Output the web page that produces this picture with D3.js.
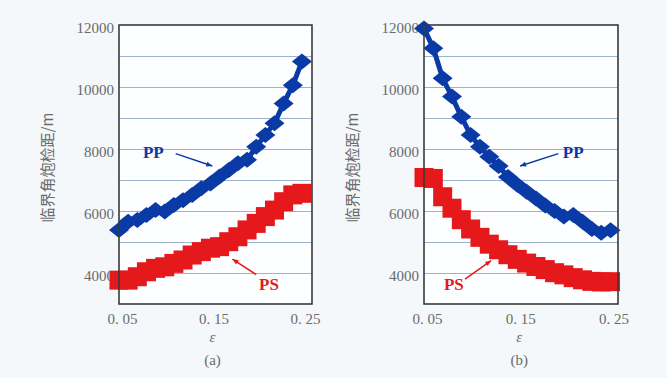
<!DOCTYPE html>
<html>
<head>
<meta charset="utf-8">
<script src="https://cdn.jsdelivr.net/npm/d3@7"></script>
<style>
  html, body { margin: 0; padding: 0; background: #f4f8fb; }
  svg { display: block; }
</style>
</head>
<body>
<svg id="chart" width="667" height="378"></svg>
<script>
const eps = [0.05, 0.06, 0.07, 0.08, 0.09, 0.10, 0.11, 0.12, 0.13, 0.14, 0.15,
  0.16, 0.17, 0.18, 0.19, 0.20, 0.21, 0.22, 0.23, 0.24, 0.25];

// panel (a)
const ppA = [5390, 5650, 5710, 5870, 6030, 5980, 6190, 6350, 6520, 6730, 6890,
  7110, 7320, 7540, 7650, 8070, 8450, 8830, 9470, 10060, 10820];
const psA = [3770, 3770, 3880, 4040, 4150, 4200, 4310, 4420, 4580, 4690, 4800,
  4850, 5010, 5170, 5390, 5600, 5820, 6030, 6300, 6520, 6570];

// panel (b)
const ppB = [11890, 11250, 10280, 9690, 9040, 8450, 8070, 7750, 7450, 7100, 6850,
  6620, 6400, 6180, 6000, 5820, 5870, 5650, 5420, 5300, 5380];
const psB = [7080, 7050, 6460, 6090, 5720, 5420, 5150, 4930, 4750, 4590, 4440,
  4320, 4210, 4110, 4010, 3940, 3850, 3780, 3730, 3710, 3720];

const xTicks = [0.05, 0.15, 0.25];
const yTicks = [4000, 6000, 8000, 10000, 12000];
const yGrid = [4000, 5000, 6000, 7000, 8000, 9000, 10000, 11000];

const BLUE = "#0a3aa6", RED = "#e5191c";
const serif = "'Liberation Serif', 'DejaVu Serif', serif";

const svg = d3.select("#chart");

// wide diamond marker
const wideDiamond = {
  draw(ctx, size) {
    const w = Math.sqrt(size) / 2, h = w * 0.8;
    ctx.moveTo(0, -h); ctx.lineTo(w, 0); ctx.lineTo(0, h); ctx.lineTo(-w, 0); ctx.closePath();
  }
};

function drawPanel(opt) {
  const { left, right, top, bottom, xMax, pp, ps, tag, ppLabel, psLabel } = opt;
  const width = right - left, height = bottom - top;

  const x = d3.scaleLinear().domain([0.05, xMax]).range([0, width]);
  const y = d3.scaleLinear().domain([3000, 12000]).range([height, 0]);

  const g = svg.append("g").attr("transform", `translate(${left},${top})`);

  g.append("rect").attr("width", width).attr("height", height).attr("fill", "#fdfeff");

  // gridlines
  g.append("g")
    .call(d3.axisLeft(y).tickValues(yGrid).tickSize(-width).tickFormat(() => ""))
    .call(s => s.select(".domain").remove())
    .selectAll("line").attr("stroke", "#9db3cb").attr("stroke-width", 1.2);

  // y tick labels
  g.append("g")
    .call(d3.axisLeft(y).tickValues(yTicks).tickSize(0).tickPadding(5).tickFormat(d3.format("d")))
    .call(s => s.select(".domain").remove())
    .selectAll("text")
    .attr("font-family", serif).attr("font-size", 15).attr("fill", "#6a6a6a")
    .attr("dy", "0.5em");

  // x tick labels
  g.append("g")
    .attr("transform", `translate(0,${height})`)
    .call(d3.axisBottom(x).tickValues(xTicks).tickSize(0).tickPadding(9)
      .tickFormat(d => d3.format(".2f")(d).replace(".", ". ")))
    .call(s => s.select(".domain").remove())
    .selectAll("text")
    .attr("font-family", serif).attr("font-size", 15).attr("fill", "#6a6a6a")
    .attr("dx", "0.2em");

  const line = d3.line().x((d, i) => x(eps[i])).y(d => y(d));

  // PS series: squares
  g.append("path").datum(ps).attr("d", line)
    .attr("fill", "none").attr("stroke", RED).attr("stroke-width", 8);
  g.selectAll(".sq").data(ps).join("rect")
    .attr("class", "sq")
    .attr("x", (d, i) => x(eps[i]) - 9.5).attr("y", d => y(d) - 9.5)
    .attr("width", 19).attr("height", 19).attr("fill", RED);

  // PP series: diamonds
  g.append("path").datum(pp).attr("d", line)
    .attr("fill", "none").attr("stroke", BLUE).attr("stroke-width", 5);
  g.selectAll(".dm").data(pp).join("path")
    .attr("class", "dm")
    .attr("transform", (d, i) => `translate(${x(eps[i])},${y(d)})`)
    .attr("d", d3.symbol().type(wideDiamond).size(400))
    .attr("fill", BLUE);

  // frame
  g.append("rect").attr("width", width).attr("height", height)
    .attr("fill", "none").attr("stroke", "#3a3a3a").attr("stroke-width", 1.6);

  // series labels with pointer lines
  const labels = [
    { l: ppLabel, text: "PP", color: BLUE },
    { l: psLabel, text: "PS", color: RED }
  ];
  labels.forEach(({ l, text, color }) => {
    g.append("text")
      .attr("x", x(l.tx)).attr("y", y(l.ty))
      .attr("text-anchor", "middle")
      .attr("font-family", serif).attr("font-size", 17).attr("font-weight", "bold")
      .attr("fill", color)
      .text(text);
    const x1 = x(l.ax0), y1 = y(l.ay0), x2 = x(l.ax1), y2 = y(l.ay1);
    g.append("line")
      .attr("x1", x1).attr("y1", y1).attr("x2", x2).attr("y2", y2)
      .attr("stroke", color).attr("stroke-width", 1.5);
    const ang = Math.atan2(y2 - y1, x2 - x1);
    const hl = 6, hw = 2.5;
    const p = [
      [x2, y2],
      [x2 - hl * Math.cos(ang) + hw * Math.sin(ang), y2 - hl * Math.sin(ang) - hw * Math.cos(ang)],
      [x2 - hl * Math.cos(ang) - hw * Math.sin(ang), y2 - hl * Math.sin(ang) + hw * Math.cos(ang)]
    ];
    g.append("path").attr("d", "M" + p.join("L") + "Z").attr("fill", color);
  });

  // axis titles
  svg.append("text")
    .attr("transform", `translate(${left - 71},${top + height / 2 + 3}) rotate(-90)`)
    .attr("text-anchor", "middle").attr("dy", "0.35em")
    .attr("font-family", "'Noto Sans CJK SC', sans-serif").attr("font-size", 15)
    .attr("fill", "#6a6a6a")
    .text("临界角炮检距/m");

  svg.append("text")
    .attr("x", left + x(0.15) + 2).attr("y", bottom + 38)
    .attr("text-anchor", "middle")
    .attr("font-family", serif).attr("font-style", "italic").attr("font-size", 15)
    .attr("fill", "#6a6a6a").text("ε");

  svg.append("text")
    .attr("x", left + x(0.15) + 2).attr("y", bottom + 61)
    .attr("text-anchor", "middle")
    .attr("font-family", serif).attr("font-size", 15)
    .attr("fill", "#6a6a6a").text(tag);
}

drawPanel({
  left: 119, right: 312, top: 25, bottom: 304, xMax: 0.261,
  pp: ppA, ps: psA, tag: "(a)",
  ppLabel: { tx: 0.0875, ty: 7700, ax0: 0.112, ay0: 7850, ax1: 0.152, ay1: 7450 },
  psLabel: { tx: 0.214, ty: 3450, ax0: 0.2, ay0: 3950, ax1: 0.174, ay1: 4450 }
});

drawPanel({
  left: 424, right: 618, top: 25, bottom: 304, xMax: 0.258,
  pp: ppB, ps: psB, tag: "(b)",
  ppLabel: { tx: 0.21, ty: 7700, ax0: 0.194, ay0: 7850, ax1: 0.153, ay1: 7450 },
  psLabel: { tx: 0.082, ty: 3450, ax0: 0.094, ay0: 3800, ax1: 0.122, ay1: 4400 }
});
</script>
</body>
</html>
